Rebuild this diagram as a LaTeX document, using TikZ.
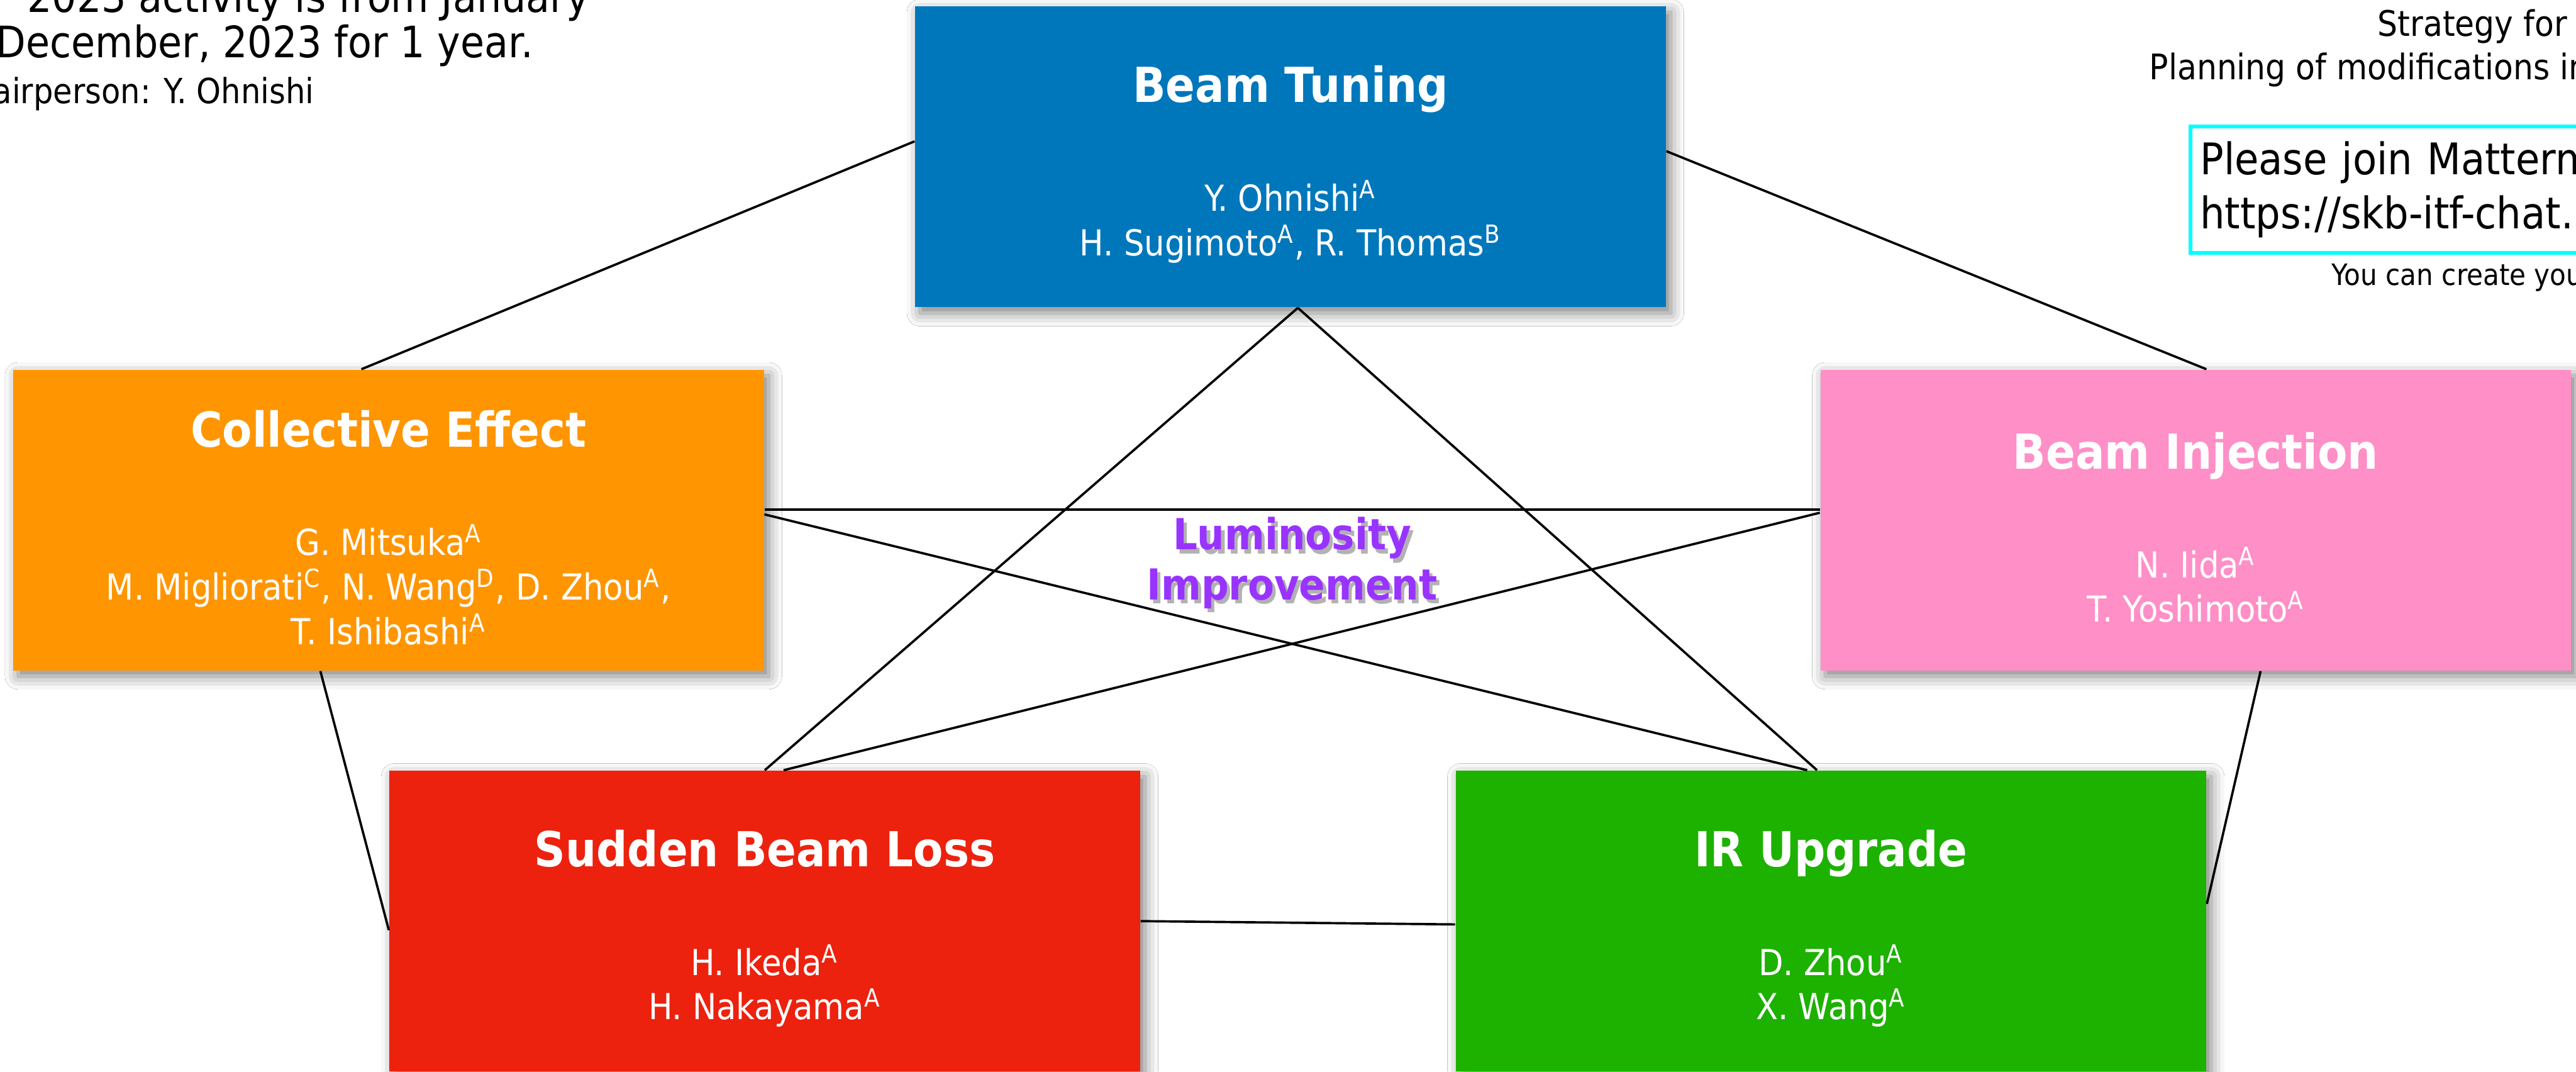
\documentclass[tikz,border=0pt]{standalone}
\usepackage{fontspec}
\setmainfont{DejaVu Sans}[FakeStretch=0.9]
\usetikzlibrary{shadows.blur}

\definecolor{tuneblue}{RGB}{0,119,187}
\definecolor{collorange}{RGB}{255,149,0}
\definecolor{injpink}{RGB}{255,143,199}
\definecolor{lossred}{RGB}{236,34,14}
\definecolor{irgreen}{RGB}{29,177,0}
\definecolor{lumpurple}{RGB}{153,51,255}
\definecolor{mmcyan}{RGB}{0,255,255}

\newcommand{\affsup}[1]{\textsuperscript{#1}}
\newcommand{\grouptitle}[1]{{\fontsize{16.7}{20}\selectfont\bfseries\rule{0pt}{17.8pt}#1}\\[22.2pt]}

\tikzset{
  team/.style={rectangle,fill=#1,text=white,inner sep=0pt,
    minimum width=9.14cm,minimum height=3.66cm,align=center,
    font=\fontsize{12.4}{15.4}\selectfont,
    blur shadow={shadow xshift=0.06cm,shadow yshift=-0.07cm,
      shadow blur radius=0.16cm,shadow opacity=50}},
  link/.style={line width=0.8pt},
  lumtext/.style={align=center,inner sep=0pt,
    font=\fontsize{14.8}{17.3}\selectfont\bfseries}
}

\begin{document}
\begin{tikzpicture}[x=0.02cm,y=-0.02cm]

\path[use as bounding box,fill=white] (0,0) rectangle (1568,652);

% notes at the top
\path (359,7.5) node[anchor=base east,inner sep=0pt,font=\fontsize{15}{17}\selectfont](note1){2023 activity is from January};
\path (325,35) node[anchor=base east,inner sep=0pt,font=\fontsize{15}{17}\selectfont](note2){December, 2023 for 1 year.};
\path (191.5,63) node[anchor=base east,inner sep=0pt,font=\fontsize{12}{14}\selectfont](note3){Chairperson: Y. Ohnishi};

\path (1563,21.9) node[anchor=base east,inner sep=0pt,font=\fontsize{12.2}{15}\selectfont](strat1){Strategy for};
\path (1308,48.4) node[anchor=base west,inner sep=0pt,font=\fontsize{12.2}{15}\selectfont](strat2){Planning of modifications in};

\path (1332,115.5) node[anchor=west,draw=mmcyan,line width=1.4pt,minimum height=1.54cm,
  text width=6cm,align=left,inner xsep=0.12cm,
  font=\fontsize{15.1}{18.8}\selectfont](mm){Please join Mattermost\\https://skb-itf-chat.};
\path (1419,173.7) node[anchor=base west,inner sep=0pt,font=\fontsize{10.2}{12}\selectfont](mmhint){You can create your};

% the five groups
\path (785.5,95.5) node[team=tuneblue](bt){\grouptitle{Beam Tuning}
  Y. Ohnishi\affsup{A}\\H. Sugimoto\affsup{A}, R. Thomas\affsup{B}};
\path (236.5,316.5) node[team=collorange](ce){\grouptitle{Collective Effect}
  G. Mitsuka\affsup{A}\\M. Migliorati\affsup{C}, N. Wang\affsup{D}, D. Zhou\affsup{A},\\T. Ishibashi\affsup{A}};
\path (1336.5,316.5) node[team=injpink](bi){\grouptitle{Beam Injection}
  N. Iida\affsup{A}\\T. Yoshimoto\affsup{A}};
\path (465.5,560.5) node[team=lossred](sbl){\grouptitle{Sudden Beam Loss}
  H. Ikeda\affsup{A}\\H. Nakayama\affsup{A}};
\path (1114.5,560.5) node[team=irgreen](ir){\grouptitle{IR Upgrade}
  D. Zhou\affsup{A}\\X. Wang\affsup{A}};

% pentagon and star
\draw[link] ([yshift=0.19cm]bt.west) -- ([xshift=-0.33cm]ce.north);
\draw[link] ([yshift=0.07cm]bt.east) -- ([xshift=0.13cm]bi.north);
\draw[link] ([xshift=0.09cm]bt.south) -- (sbl.north);
\draw[link] ([xshift=0.09cm]bt.south) -- ([xshift=-0.17cm]ir.north);
\draw[link] ([yshift=0.13cm]ce.east) -- ([yshift=0.13cm]bi.west);
\draw[link] ([yshift=0.07cm]ce.east) -- ([xshift=-0.29cm]ir.north);
\draw[link] ([yshift=0.09cm]bi.west) -- ([xshift=0.23cm]sbl.north);
\draw[link] ([xshift=-0.83cm]ce.south) -- ([yshift=-0.11cm]sbl.west);
\draw[link] ([xshift=0.79cm]bi.south) -- ([yshift=0.21cm]ir.east);
\draw[link] (sbl.east) -- ([yshift=-0.04cm]ir.west);

% label in the middle
\path (788.5,345) node[lumtext,text=black,opacity=0.3](lumshadow){Luminosity\\Improvement};
\path (786.5,342.5) node[lumtext,text=lumpurple](lum){Luminosity\\Improvement};

\end{tikzpicture}
\end{document}
